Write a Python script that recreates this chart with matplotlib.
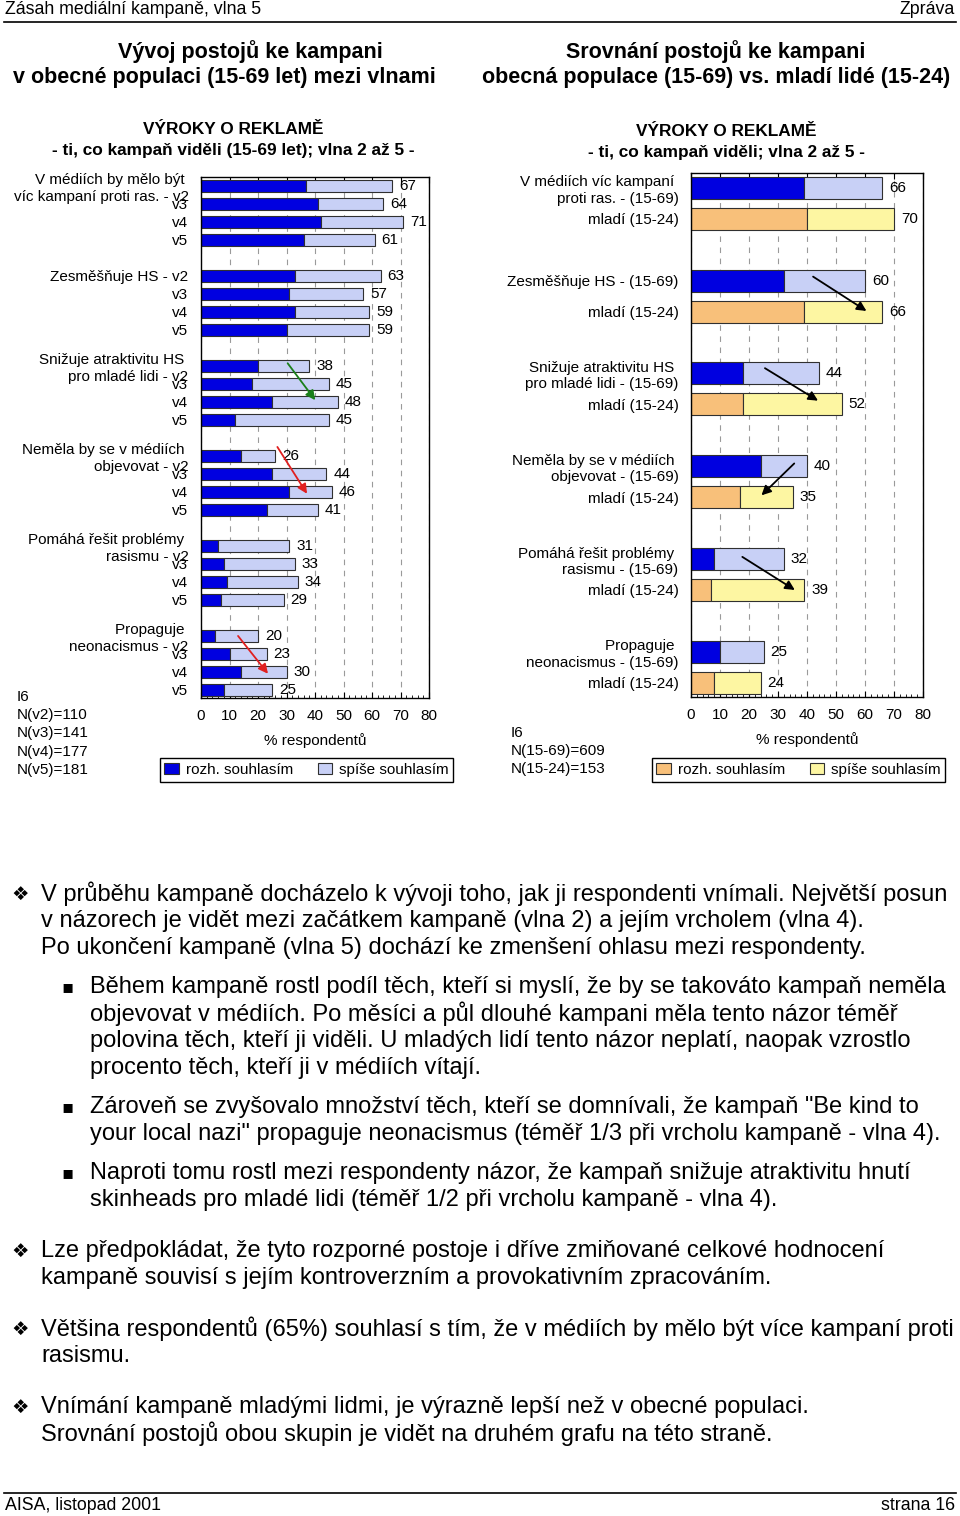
import numpy as np
import matplotlib.pyplot as plt
from matplotlib.lines import Line2D
from matplotlib.patches import Patch

plt.rcParams['font.family'] = ['Liberation Sans', 'DejaVu Sans']

W, H = 960, 1516

# ---- left chart data: waves v2..v5 (15-69 let)
waves = ['v2', 'v3', 'v4', 'v5']
groups_left = ['V médiích by mělo být \nvíc kampaní proti ras. - v2',
               'Zesměšňuje HS - v2',
               'Snižuje atraktivitu HS \npro mladé lidi - v2',
               'Neměla by se v médiích \nobjevovat - v2',
               'Pomáhá řešit problémy \nrasismu - v2',
               'Propaguje \nneonacismus - v2']
left_strong = [[37, 41, 42, 36],
               [33, 31, 33, 30],
               [20, 18, 25, 12],
               [14, 25, 31, 23],
               [6, 8, 9, 7],
               [5, 10, 14, 8]]
left_total = [[67, 64, 71, 61],
              [63, 57, 59, 59],
              [38, 45, 48, 45],
              [26, 44, 46, 41],
              [31, 33, 34, 29],
              [20, 23, 30, 25]]

# ---- right chart data: 15-69 vs 15-24
groups_right = ['V médiích víc kampaní \nproti ras. - (15-69)',
                'Zesměšňuje HS - (15-69)',
                'Snižuje atraktivitu HS \npro mladé lidi - (15-69)',
                'Neměla by se v médiích \nobjevovat - (15-69)',
                'Pomáhá řešit problémy \nrasismu - (15-69)',
                'Propaguje \nneonacismus - (15-69)']
young_label = 'mladí (15-24)'
right_strong = [[39, 40], [32, 39], [18, 18], [24, 17], [8, 7], [10, 8]]
right_total = [[66, 70], [60, 66], [44, 52], [40, 35], [32, 39], [25, 24]]

legend_labels = ['rozh. souhlasím', 'spíše souhlasím']

c_dark = '#0000e0'
c_light = '#c8d0f6'
c_orange = '#f8c07a'
c_yellow = '#fdf6a2'
edge = '#303030'

bullet_text = [
    ('d', 894, 'V průběhu kampaně docházelo k vývoji toho, jak ji respondenti vnímali. Největší posun'),
    ('', 921, 'v názorech je vidět mezi začátkem kampaně (vlna 2) a jejím vrcholem (vlna 4).'),
    ('', 948, 'Po ukončení kampaně (vlna 5) dochází ke zmenšení ohlasu mezi respondenty.'),
    ('s', 987, 'Během kampaně rostl podíl těch, kteří si myslí, že by se takováto kampaň neměla'),
    ('', 1014, 'objevovat v médiích. Po měsíci a půl dlouhé kampani měla tento názor téměř'),
    ('', 1041, 'polovina těch, kteří ji viděli. U mladých lidí tento názor neplatí, naopak vzrostlo'),
    ('', 1068, 'procento těch, kteří ji v médiích vítají.'),
    ('s', 1107, 'Zároveň se zvyšovalo množství těch, kteří se domnívali, že kampaň "Be kind to'),
    ('', 1134, 'your local nazi" propaguje neonacismus (téměř 1/3 při vrcholu kampaně - vlna 4).'),
    ('s', 1173, 'Naproti tomu rostl mezi respondenty názor, že kampaň snižuje atraktivitu hnutí'),
    ('', 1200, 'skinheads pro mladé lidi (téměř 1/2 při vrcholu kampaně - vlna 4).'),
    ('d', 1251, 'Lze předpokládat, že tyto rozporné postoje i dříve zmiňované celkové hodnocení'),
    ('', 1278, 'kampaně souvisí s jejím kontroverzním a provokativním zpracováním.'),
    ('d', 1329, 'Většina respondentů (65%) souhlasí s tím, že v médiích by mělo být více kampaní proti'),
    ('', 1356, 'rasismu.'),
    ('d', 1407, 'Vnímání kampaně mladými lidmi, je výrazně lepší než v obecné populaci.'),
    ('', 1434, 'Srovnání postojů obou skupin je vidět na druhém grafu na této straně.'),
]

FS = 11  # chart text size


def fx(x):
    return x / W


def fy(y):
    return 1 - y / H


def ftext(x, y, s, **kw):
    kw.setdefault('va', 'center')
    fig.text(fx(x), fy(y), s, **kw)


fig = plt.figure(figsize=(W / 100, H / 100), dpi=100)

# header / footer
ftext(5, 9, 'Zásah mediální kampaně, vlna 5', fontsize=12.8)
ftext(955, 9, 'Zpráva', fontsize=12.8, ha='right')
fig.add_artist(Line2D([fx(4), fx(956)], [fy(22), fy(22)], color='black', lw=1.2))
fig.add_artist(Line2D([fx(4), fx(956)], [fy(1493), fy(1493)], color='black', lw=1.2))
ftext(5, 1506, 'AISA, listopad 2001', fontsize=12.8)
ftext(955, 1506, 'strana 16', fontsize=12.8, ha='right')

# titles
ftext(250, 52, 'Vývoj postojů ke kampani', fontsize=15.5, weight='bold', ha='center')
ftext(224, 77, 'v obecné populaci (15-69 let) mezi vlnami', fontsize=15.5, weight='bold', ha='center')
ftext(716, 52, 'Srovnání postojů ke kampani', fontsize=15.5, weight='bold', ha='center')
ftext(716, 77, 'obecná populace (15-69) vs. mladí lidé (15-24)', fontsize=15.5, weight='bold', ha='center')
ftext(233, 129, 'VÝROKY O REKLAMĚ', fontsize=12.4, weight='bold', ha='center')
ftext(233, 150, '- ti, co kampaň viděli (15-69 let); vlna 2 až 5 -', fontsize=12.4, weight='bold', ha='center')
ftext(726, 131, 'VÝROKY O REKLAMĚ', fontsize=12.4, weight='bold', ha='center')
ftext(726, 152, '- ti, co kampaň viděli; vlna 2 až 5 -', fontsize=12.4, weight='bold', ha='center')


def style_axes(ax):
    ax.set_xlim(0, 80)
    ax.set_xticks(np.arange(0, 81, 10))
    ax.set_xticks(np.arange(0, 81, 2), minor=True)
    ax.tick_params(axis='x', which='major', direction='in', length=4, top=True,
                   labelsize=FS, pad=8)
    ax.tick_params(axis='x', which='minor', direction='in', length=2.5, top=False)
    ax.tick_params(axis='y', length=0, pad=9, labelsize=FS)
    ax.grid(axis='x', which='major', linestyle=(0, (5, 5)), color='#9a9a9a', lw=0.8)
    ax.set_axisbelow(True)
    for sp in ax.spines.values():
        sp.set_linewidth(1.0)
    ax.set_xlabel('% respondentů', fontsize=FS, labelpad=7)


# ---- left chart
ax1 = fig.add_axes([fx(201), fy(697.7), fx(429) - fx(201), (697.7 - 177.3) / H])
pos, strong, total, labels = [], [], [], []
for g in range(6):
    for i in range(4):
        pos.append(5 * g + i)
        strong.append(left_strong[g][i])
        total.append(left_total[g][i])
        labels.append(groups_left[g] if i == 0 else waves[i])
pos = np.array(pos)
strong = np.array(strong)
total = np.array(total)
ax1.barh(pos, strong, height=0.7, color=c_dark, edgecolor=edge, lw=0.8)
ax1.barh(pos, total - strong, left=strong, height=0.7, color=c_light, edgecolor=edge, lw=0.8)
for p, t in zip(pos, total):
    ax1.text(t + 2.4, p, str(t), va='center', ha='left', fontsize=FS)
ax1.set_yticks(pos)
ax1.set_yticklabels(labels)
ax1.set_ylim(28.43, -0.48)
style_axes(ax1)

arr = dict(arrowstyle='-|>', lw=1.3, mutation_scale=14, shrinkA=0, shrinkB=0)
ax1.annotate('', xy=(40.1, 11.9), xytext=(30.4, 9.85), arrowprops=dict(arr, color='#1a7f1a'))
ax1.annotate('', xy=(37.2, 17.1), xytext=(26.8, 14.5), arrowprops=dict(arr, color='#e02020'))
ax1.annotate('', xy=(23.5, 27.1), xytext=(13.0, 25.0), arrowprops=dict(arr, color='#e02020'))

# ---- right chart
ax2 = fig.add_axes([fx(691), fy(696.7), fx(923) - fx(691), (696.7 - 173) / H])
for g in range(6):
    for i in range(2):
        p = 3 * g + i
        s = right_strong[g][i]
        t = right_total[g][i]
        c1, c2 = (c_dark, c_light) if i == 0 else (c_orange, c_yellow)
        ax2.barh(p, s, height=0.71, color=c1, edgecolor=edge, lw=0.8)
        ax2.barh(p, t - s, left=s, height=0.71, color=c2, edgecolor=edge, lw=0.8)
        ax2.text(t + 2.4, p, str(t), va='center', ha='left', fontsize=FS)
rpos = [3 * g + i for g in range(6) for i in range(2)]
rlab = [groups_right[g] if i == 0 else young_label for g in range(6) for i in range(2)]
ax2.set_yticks(rpos)
ax2.set_yticklabels(rlab)
ax2.set_ylim(16.45, -0.48)
style_axes(ax2)

ax2.annotate('', xy=(60.5, 3.98), xytext=(42.1, 2.87), arrowprops=dict(arr, color='black'))
ax2.annotate('', xy=(43.8, 6.88), xytext=(25.5, 5.83), arrowprops=dict(arr, color='black'))
ax2.annotate('', xy=(24.3, 9.94), xytext=(35.6, 8.91), arrowprops=dict(arr, color='black'))
ax2.annotate('', xy=(35.8, 13.0), xytext=(17.7, 11.93), arrowprops=dict(arr, color='black'))

# legends
for (x0, x1), cols in [((158, 455), (c_dark, c_light)), ((648, 949), (c_orange, c_yellow))]:
    handles = [Patch(facecolor=cols[0], edgecolor=edge, lw=0.8),
               Patch(facecolor=cols[1], edgecolor=edge, lw=0.8)]
    fig.legend(handles, legend_labels, loc='center', bbox_to_anchor=(fx((x0 + x1) / 2), fy(770)),
               ncol=2, frameon=True, fancybox=False, edgecolor='black', framealpha=1,
               fontsize=FS, handlelength=0.95, handleheight=0.75, handletextpad=0.45,
               columnspacing=1.6, borderpad=0.3, borderaxespad=0)

# sample notes
for k, s in enumerate(['I6', 'N(v2)=110', 'N(v3)=141', 'N(v4)=177', 'N(v5)=181']):
    ftext(17, 697 + 18.2 * k, s, fontsize=FS)
for k, s in enumerate(['I6', 'N(15-69)=609', 'N(15-24)=153']):
    ftext(511, 733 + 18 * k, s, fontsize=FS)

# commentary text
for kind, y, s in bullet_text:
    if kind == 'd':
        ftext(11, y, '❖', fontsize=14, family=['DejaVu Sans'])
        ftext(41, y, s, fontsize=17)
    else:
        if kind == 's':
            ftext(61, y, '▪', fontsize=13, family=['DejaVu Sans'])
        indent = 41 if y < 960 or y > 1240 else 90
        ftext(indent, y, s, fontsize=17)

fig.savefig('out.png', dpi=100)
